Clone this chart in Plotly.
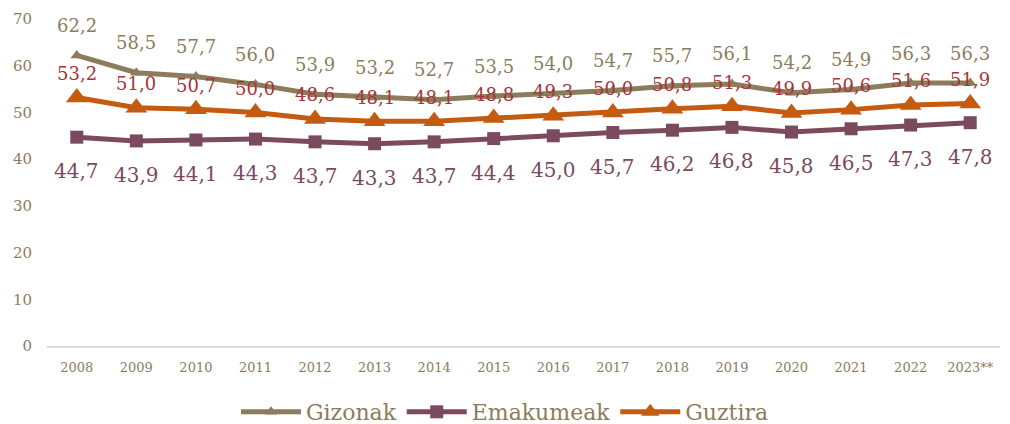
import plotly.graph_objects as go

years = ["2008","2009","2010","2011","2012","2013","2014","2015","2016","2017","2018","2019","2020","2021","2022","2023**"]
gizonak = [62.2,58.5,57.7,56.0,53.9,53.2,52.7,53.5,54.0,54.7,55.7,56.1,54.2,54.9,56.3,56.3]
emakumeak = [44.7,43.9,44.1,44.3,43.7,43.3,43.7,44.4,45.0,45.7,46.2,46.8,45.8,46.5,47.3,47.8]
guztira = [53.2,51.0,50.7,50.0,48.6,48.1,48.1,48.8,49.3,50.0,50.8,51.3,49.9,50.6,51.6,51.9]

C_GIZ = "#8B7D5B"
C_EMA = "#7B4A5E"
C_GUZ = "#C55A11"
C_GUZ_TXT = "#A8343A"
FONT = "DejaVu Serif"

def fmt(v):
    return f"{v:.1f}".replace(".", ",")

fig = go.Figure()
fig.add_trace(go.Scatter(x=years, y=gizonak, name="Gizonak", mode="lines+markers",
                         line=dict(color=C_GIZ, width=5),
                         marker=dict(symbol="triangle-up", size=11, color=C_GIZ)))
fig.add_trace(go.Scatter(x=years, y=emakumeak, name="Emakumeak", mode="lines+markers",
                         line=dict(color=C_EMA, width=5),
                         marker=dict(symbol="square", size=13, color=C_EMA)))
fig.add_trace(go.Scatter(x=years, y=guztira, name="Guztira", mode="lines+markers",
                         line=dict(color=C_GUZ, width=5),
                         marker=dict(symbol="triangle-up", size=19, color=C_GUZ)))

annotations = []
for i, v in enumerate(gizonak):
    annotations.append(dict(x=i, y=v, text=fmt(v), showarrow=False, yshift=30,
                            font=dict(family=FONT, size=18, color=C_GIZ)))
for i, v in enumerate(guztira):
    annotations.append(dict(x=i, y=v, text=fmt(v), showarrow=False, yshift=24,
                            font=dict(family=FONT, size=18, color=C_GUZ_TXT)))
for i, v in enumerate(emakumeak):
    annotations.append(dict(x=i, y=v, text=fmt(v), showarrow=False, yshift=-34,
                            font=dict(family=FONT, size=20, color=C_EMA)))

fig.update_layout(
    width=1010, height=424,
    margin=dict(l=47, r=10, t=19, b=78, autoexpand=False),
    paper_bgcolor="white", plot_bgcolor="white",
    font=dict(family=FONT, color=C_GIZ),
    annotations=annotations,
    showlegend=True,
    legend=dict(orientation="h", x=0.5, xanchor="center", xref="container",
                y=12/424, yanchor="middle", yref="container",
                font=dict(family=FONT, size=22, color=C_GIZ), itemwidth=60),
    xaxis=dict(type="category", range=[-0.5, 15.5], showgrid=False, automargin=False,
               showline=True, linecolor="#D9D9D9", linewidth=2, ticks="",
               ticklabelstandoff=8,
               tickfont=dict(family=FONT, size=13, color=C_GIZ)),
    yaxis=dict(range=[0, 70], dtick=10, showgrid=False, zeroline=False, automargin=False,
               showline=False, ticks="", ticklabelstandoff=14,
               tickfont=dict(family=FONT, size=15, color=C_GIZ)),
)

fig.write_html("out.html", config={"displayModeBar": False},
               post_script="document.body.style.margin='0';document.body.style.overflow='hidden';")
